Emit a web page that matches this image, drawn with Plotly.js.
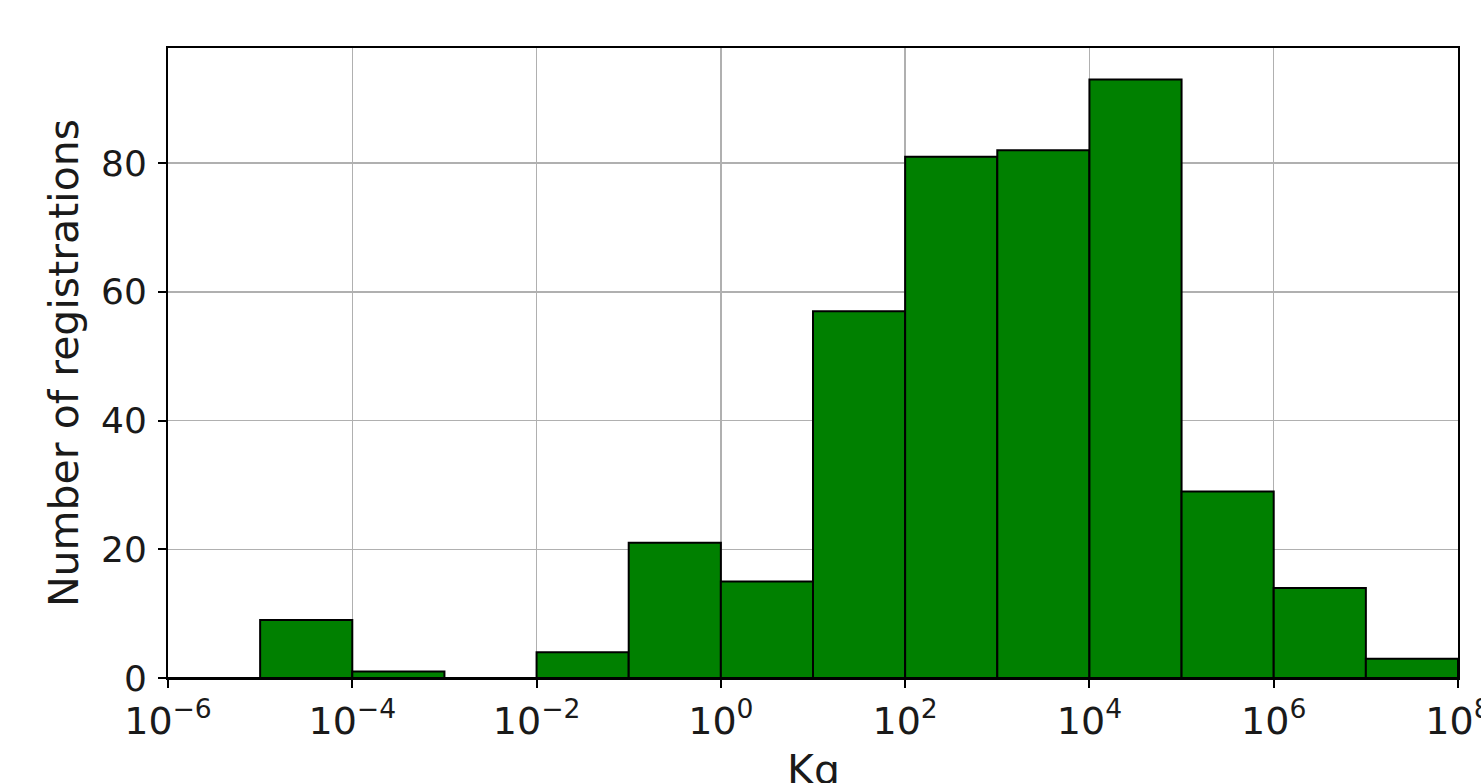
<!DOCTYPE html>
<html>
<head>
<meta charset="utf-8">
<script src="https://cdn.plot.ly/plotly-3.0.1.min.js"></script>
<style>
  html, body { margin: 0; padding: 0; background: #fff; overflow: hidden; }
  #chart { width: 1481px; height: 783px; }
</style>
</head>
<body>
<div id="chart"></div>
<script>
// Bin left edges (Kg), one decade wide each
const binLeftKg = [1e-6, 1e-5, 1e-4, 1e-3, 1e-2, 1e-1, 1e0, 1e1, 1e2, 1e3, 1e4, 1e5, 1e6, 1e7];
// Number of registrations per bin
const counts = [0, 9, 1, 0, 4, 21, 15, 57, 81, 82, 93, 29, 14, 3];
// Tick values (exponents) and labels
const tickExponents = [-6, -4, -2, 0, 2, 4, 6, 8];
const tickLabels = tickExponents.map(e => '10<sup>' + (e < 0 ? '\u2212' + (-e) : e) + '</sup>');
const yTicks = [0, 20, 40, 60, 80];
const xTitle = 'Kg';
const yTitle = 'Number of registrations';

const xLeft = binLeftKg.map(v => Math.log10(v));

const fam = 'DejaVu Sans, sans-serif';
const txt = '#1a1a1a';

const trace = {
  type: 'bar',
  x: xLeft,
  y: counts,
  offset: 0,
  width: 1,
  marker: { color: '#008000', line: { color: '#000000', width: 2 } },
  hoverinfo: 'x+y'
};

const layout = {
  width: 1481,
  height: 783,
  margin: { l: 168, r: 23, t: 48, b: 105 },
  paper_bgcolor: '#ffffff',
  plot_bgcolor: '#ffffff',
  font: { family: fam, size: 36, color: txt },
  showlegend: false,
  bargap: 0,
  xaxis: {
    type: 'linear',
    range: [-6, 8],
    tickmode: 'array',
    tickvals: tickExponents,
    ticktext: tickLabels,
    ticks: 'outside',
    ticklen: 8,
    tickwidth: 2,
    tickcolor: '#000',
    ticklabeloverflow: 'allow',
    showgrid: true,
    gridcolor: '#b0b0b0',
    gridwidth: 1.5,
    zeroline: false,
    showline: true,
    linecolor: '#000',
    linewidth: 2,
    mirror: true,
    tickfont: { family: fam, size: 38, color: txt }
  },
  yaxis: {
    range: [0, 97.9],
    tickmode: 'array',
    tickvals: yTicks,
    ticks: 'outside',
    ticklen: 8,
    tickwidth: 2,
    tickcolor: '#000',
    ticklabelstandoff: 4,
    showgrid: true,
    gridcolor: '#b0b0b0',
    gridwidth: 1.5,
    zeroline: false,
    showline: true,
    linecolor: '#000',
    linewidth: 2,
    mirror: true,
    tickfont: { family: fam, size: 36, color: txt },
    title: { text: yTitle, font: { family: fam, size: 41, color: txt }, standoff: 10 }
  },
  annotations: [{
    text: xTitle,
    xref: 'paper', yref: 'paper',
    x: 0.5, y: 0,
    xanchor: 'center', yanchor: 'top',
    yshift: -67,
    showarrow: false,
    borderpad: 0,
    font: { family: fam, size: 41, color: txt }
  }]
};

Plotly.newPlot('chart', [trace], layout, { staticPlot: true, displayModeBar: false });
</script>
</body>
</html>
